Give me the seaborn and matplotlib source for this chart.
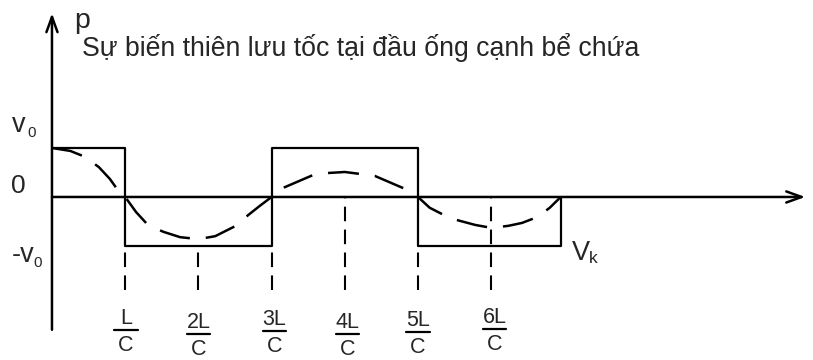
import matplotlib
matplotlib.use("Agg")
import matplotlib.pyplot as plt
import pandas as pd
import seaborn as sns

# Time axis in units of L/C, velocity in units of v0
curve_t = [0.00, 0.25, 0.45, 0.64, 0.79, 0.90, 1.00,
           1.15, 1.31, 1.52, 1.75, 2.00, 2.23, 2.51, 2.68, 2.84, 3.00,
           3.18, 3.57, 3.78, 4.00, 4.21, 4.41, 4.80, 5.00,
           5.16, 5.33, 5.53, 5.78, 6.00, 6.23, 6.42, 6.63, 6.80, 6.95]
curve_v = [1.00, 0.94, 0.82, 0.61, 0.37, 0.14, 0.00,
           -0.31, -0.57, -0.71, -0.82, -0.86, -0.80, -0.59, -0.37, -0.18, 0.00,
           0.20, 0.45, 0.49, 0.51, 0.47, 0.43, 0.18, 0.00,
           -0.22, -0.35, -0.47, -0.57, -0.63, -0.59, -0.53, -0.41, -0.22, 0.00]

# Rectangular (rigid-column) velocity history
step_edges = [0.0, 1.0, 3.0, 5.0, 6.95]
step_levels = [1.0, -1.0, 1.0, -1.0]

# Multiples of L/C marked under the axis
tick_pos = [1, 2, 3, 4, 5, 6]
tick_num = ["L", "2L", "3L", "4L", "5L", "6L"]
tick_den = ["C", "C", "C", "C", "C", "C"]
guide_top = [-1.0, -1.0, -1.0, 0.0, -1.0, 0.0]
guide_bottom = -1.9

title = "Sự biến thiên lưu tốc tại đầu ống cạnh bể chứa"
y_name = "p"
end_label = ("V", "k")

sns.set_theme(style="white")
plt.rcParams["font.family"] = ["Liberation Sans", "DejaVu Sans"]

fig = plt.figure(figsize=(8.13, 3.60), dpi=100)
ax = fig.add_axes([0, 0, 1, 1])
ax.set_xlim(-0.710, 10.396)
ax.set_ylim(-3.327, 4.020)
ax.axis("off")

# square wave path built from the step edges
sq_t, sq_v = [step_edges[0]], [step_levels[0]]
for i, lvl in enumerate(step_levels):
    sq_t.append(step_edges[i + 1]); sq_v.append(lvl)
    nxt = step_levels[i + 1] if i + 1 < len(step_levels) else 0.0
    sq_t.append(step_edges[i + 1]); sq_v.append(nxt)
square = pd.DataFrame({"t": sq_t, "v": sq_v})
sns.lineplot(data=square, x="t", y="v", sort=False, estimator=None,
             color="black", lw=1.6, ax=ax)

curve = pd.DataFrame({"t": curve_t, "v": curve_v})
sns.lineplot(data=curve, x="t", y="v", sort=False, estimator=None,
             color="black", lw=1.8, linestyle=(0, (12.4, 6.4)), ax=ax)

# coordinate axes with open arrow heads
arrow = dict(arrowstyle="->,head_length=0.55,head_width=0.2", lw=1.8,
             color="black", mutation_scale=20, shrinkA=0, shrinkB=0)
ax.annotate("", xy=(10.29, 0), xytext=(0, 0), arrowprops=arrow)
ax.annotate("", xy=(0, 3.75), xytext=(0, -2.71), arrowprops=arrow)

# dashed guides down to the time labels
for t, top in zip(tick_pos, guide_top):
    ax.plot([t, t], [guide_bottom, top], color="black", lw=1.5,
            linestyle=(0, (7, 4)))

# fraction labels
bar_dx = [0.01, 0.0, 0.04, 0.04, 0.0, 0.045]
bar_y = [-2.714, -2.80, -2.735, -2.80, -2.755, -2.694]
for t, num, den, dx, by in zip(tick_pos, tick_num, tick_den, bar_dx, bar_y):
    cx = t + dx
    ax.plot([cx - 0.16, cx + 0.16], [by, by], color="black", lw=1.6)
    ax.text(cx, by + 0.12, num, ha="center", va="baseline", fontsize=15.5)
    ax.text(cx, by - 0.43, den, ha="center", va="baseline", fontsize=15.5)

# axis annotations
ax.text(0.30, 3.45, y_name, ha="left", va="baseline", fontsize=20.5)
ax.text(0.41, 2.878, title, ha="left", va="baseline", fontsize=19.2)
ax.text(-0.546, 1.327, "v", ha="left", va="baseline", fontsize=19.5)
ax.text(-0.33, 1.224, "0", ha="left", va="baseline", fontsize=11)
ax.text(-0.56, 0.082, "0", ha="left", va="baseline", fontsize=19)
ax.text(-0.546, -1.327, "-v", ha="left", va="baseline", fontsize=19.5)
ax.text(-0.25, -1.43, "0", ha="left", va="baseline", fontsize=11)
ax.text(7.10, -1.286, end_label[0], ha="left", va="baseline", fontsize=19.5)
ax.text(7.33, -1.347, end_label[1], ha="left", va="baseline", fontsize=12.5)

fig.savefig("out.png", dpi=100, facecolor="white")
